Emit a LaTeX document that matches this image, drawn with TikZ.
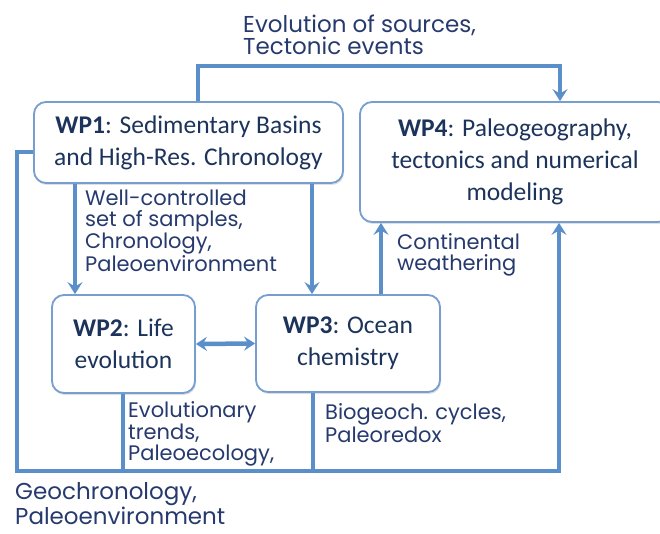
\documentclass[tikz,border=0pt]{standalone}
\usepackage{fontspec}
\setmainfont{Carlito}
\newfontfamily\handfont{Poppins}
\usetikzlibrary{arrows.meta,shadows}
\definecolor{linkblue}{RGB}{91,143,201}
\definecolor{boxline}{RGB}{118,158,208}
\definecolor{boxtext}{RGB}{28,52,92}
\definecolor{handtext}{RGB}{38,58,110}
\begin{document}
\begin{tikzpicture}[x=1pt,y=-1pt,
  wpbox/.style={draw=boxline, line width=1.8pt, rounded corners=12pt, fill=white,
    align=center, text=boxtext, font=\fontsize{25.5}{32}\selectfont, inner sep=0pt,
    drop shadow={opacity=0.25, shadow xshift=1pt, shadow yshift=-2pt}},
  conn/.style={draw=linkblue, line width=4.5pt},
  tip/.style={-{Stealth[length=12pt,width=15pt,inset=4.5pt]}},
  dtip/.style={{Stealth[length=11pt,width=14pt,inset=4pt]}-{Stealth[length=11pt,width=14pt,inset=4pt]}},
  lab/.style={text=handtext, font=\handfont\fontsize{21}{20.5}\selectfont, align=left, anchor=base west, inner sep=0pt},
  biglab/.style={lab, font=\handfont\fontsize{23}{22}\selectfont}]
\useasboundingbox (0,0) rectangle (660,534);
\fill[white] (0,0) rectangle (660,534);

\node[wpbox, minimum width=309pt, minimum height=81pt] (wp1) at (188.5,142.5)
  {\raisebox{-4pt}{\textbf{WP1}: Sedimentary Basins}\\\raisebox{-4pt}{and High-Res. Chronology}};
\node[wpbox, minimum width=310pt, minimum height=120pt] (wp4) at (515,162)
  {\raisebox{-3pt}{\textbf{WP4}: Paleogeography,}\\\raisebox{-3pt}{tectonics and numerical}\\\raisebox{-3pt}{modeling}};
\node[wpbox, minimum width=143pt, minimum height=98pt] (wp2) at (123.5,344)
  {\textbf{WP2}: Life\\evolution};
\node[wpbox, minimum width=184pt, minimum height=97pt] (wp3) at (348,343.5)
  {\textbf{WP3}: Ocean\\chemistry};

\coordinate (t1) at (198,66);
\coordinate (t2) at (560,66);
\coordinate (l1) at (17,152);
\coordinate (b1) at (17,471);
\coordinate (b2) at (559,471);
\coordinate (c2) at (123,471);
\coordinate (c3) at (313,471);
\coordinate (d2) at (75,0);
\coordinate (d3) at (312,0);
\coordinate (u4) at (381,0);

\draw[conn, tip, line join=miter] (t1 |- wp1.north) -- (t1) -- (t2) -- (t2 |- wp4.north);
\draw[conn, tip, line join=miter] (wp1.west |- l1) -- (l1) -- (b1) -- (b2) -- (b2 |- wp4.south);
\draw[conn] (c2 |- wp2.south) -- (c2);
\draw[conn] (c3 |- wp3.south) -- (c3);
\draw[conn, tip] (d2 |- wp1.south) -- (d2 |- wp2.north);
\draw[conn, tip] (d3 |- wp1.south) -- (d3 |- wp3.north);
\draw[conn, tip] (u4 |- wp3.north) -- (u4 |- wp4.south);
\draw[conn, dtip] (wp2.east) -- (wp3.west);

\node[biglab] (lbtop) at (243,55) {Evolution of sources,\\Tectonic events};
\node[lab] (lbwp1) at (85,271) {Well-controlled\\set of samples,\\Chronology,\\Paleoenvironment};
\node[lab] (lbwp3) at (397,270) {Continental\\weathering};
\node[lab] (lbwp2) at (128,460) {Evolutionary\\trends,\\Paleoecology,};
\node[lab] (lbbio) at (325,442) {Biogeoch. cycles,\\Paleoredox};
\node[biglab, font=\handfont\fontsize{23}{25}\selectfont] (lbgeo) at (15,524) {Geochronology,\\Paleoenvironment};
\end{tikzpicture}
\end{document}
